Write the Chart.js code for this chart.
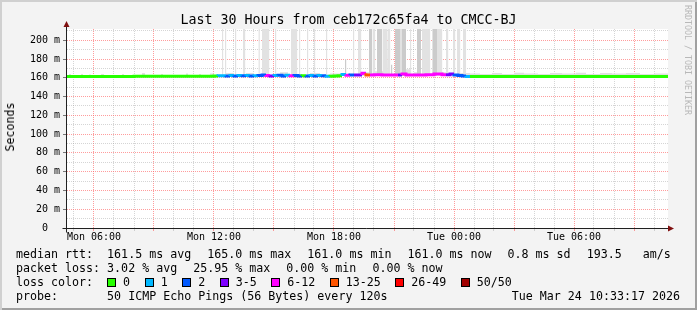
<!DOCTYPE html>
<html>
<head>
<meta charset="utf-8">
<script src="https://cdn.jsdelivr.net/npm/chart.js@4.4.1/dist/chart.umd.min.js"></script>
<style>
  html, body { margin: 0; padding: 0; background: #f3f3f3; }
  #frame {
    position: relative; width: 697px; height: 310px; background: #f3f3f3;
    box-shadow: inset 2px 2px 0 #d0d0d0, inset -2px -2px 0 #a0a0a0;
    font-family: "DejaVu Sans Mono", monospace; color: #000; overflow: hidden;
  }
  #chart { position: absolute; left: 0; top: 0; }
  .title { position: absolute; left: 0; top: 12px; width: 697px; text-align: center; font-size: 13.3px; line-height: 15px; }
  .ylabel { position: absolute; left: 10px; top: 127px; font-size: 11.65px; line-height: 14px; transform: translate(-50%, -50%) rotate(-90deg); white-space: pre; }
  .mark { position: absolute; left: 683px; top: 5px; writing-mode: vertical-rl; font-size: 8.3px; color: #b8b8b8; white-space: pre; }
  .row { position: absolute; left: 16px; height: 14px; width: 681px; font-size: 11.65px; line-height: 14px; white-space: pre; }
  .gap { margin-right: 16px; }
  .box { display: inline-block; width: 7px; height: 7px; border: 1px solid #000; vertical-align: -1px; margin-right: 7px; }
  .item { margin-right: 14.5px; }
  .date { position: absolute; right: 17px; top: 289px; font-size: 11.65px; line-height: 14px; white-space: pre; }
</style>
</head>
<body>
<div id="frame">
  <canvas id="chart" width="697" height="310"></canvas>
  <div class="title">Last 30 Hours from ceb172c65fa4 to CMCC-BJ</div>
  <div class="ylabel">Seconds</div>
  <div class="mark">RRDTOOL / TOBI OETIKER</div>
  <div class="row" id="row-rtt" style="top:247px"></div>
  <div class="row" id="row-loss" style="top:261px"></div>
  <div class="row" id="loss-row" style="top:275px">loss color:  </div>
  <div class="row" style="top:289px">probe:       50 ICMP Echo Pings (56 Bytes) every 120s</div>
  <div class="date">Tue Mar 24 10:33:17 2026</div>
</div>
<script>
// hours since Mon 00:00
const xStart = 4.65;
const xEnd = 34.7;
const xTickHours = [6, 12, 18, 24, 30];
const xTickLabels = ['Mon 06:00', 'Mon 12:00', 'Mon 18:00', 'Tue 00:00', 'Tue 06:00'];
const yMax = 212;

const lossLabels = ['0', '1', '2', '3-5', '6-12', '13-25', '26-49', '50/50'];
const lossColors = ['#26ff00', '#00b8ff', '#0059ff', '#7e00ff', '#ff00ff', '#ff5500', '#ff0000', '#a10000'];

const rttLegend = ['median rtt:  161.5 ms avg', '165.0 ms max', '161.0 ms min', '161.0 ms now', '0.8 ms sd', '193.5   am/s'];
const lossLegend = ['packet loss: 3.02 % avg', '25.95 % max', '0.00 % min', '0.00 % now'];

// median rtt (ms) and loss class per step
const medianTimes = [4.65, 8.0, 12.0, 12.2, 12.4, 12.6, 12.8, 13.0, 13.2, 13.4, 13.6, 13.8, 14.0, 14.2, 14.4, 14.6, 14.8,
  15.0, 15.2, 15.4, 15.6, 15.8, 16.0, 16.2, 16.4, 16.6, 16.8, 17.0, 17.2, 17.4, 17.6, 17.8, 18.0, 18.2, 18.4, 18.6, 18.8,
  19.0, 19.2, 19.4, 19.6, 19.8, 20.0, 20.4, 20.8, 21.2, 21.4, 21.6, 21.8, 22.2, 22.6, 23.0, 23.4, 23.6, 23.8, 24.0, 24.2,
  24.4, 24.6, 24.8, 28.0, 31.0, 34.7];
const medianValues = [161.5, 161.5, 161.6, 162.0, 162.3, 162.3, 162.0, 162.4, 162.0, 162.5, 162.2, 162.4, 162.0, 162.3,
  162.5, 163.0, 162.5, 162.0, 162.4, 162.6, 162.0, 162.6, 162.3, 162.5, 161.8, 162.3, 162.0, 162.4, 162.0, 162.5, 162.1,
  161.6, 161.7, 161.8, 162.2, 163.5, 162.6, 163.0, 163.0, 163.0, 164.8, 163.0, 163.0, 163.2, 162.9, 163.0, 163.0, 164.0,
  163.0, 163.1, 163.0, 163.2, 164.0, 163.2, 163.2, 164.0, 163.0, 162.5, 162.0, 161.5, 161.5, 161.4, 161.5];
const medianLoss = [0, 0, 0, 1, 1, 2, 1, 2, 1, 2, 1, 2, 1, 2, 2, 4, 3, 1, 2, 2, 1, 4, 2, 2, 0, 2, 1, 2, 1, 2, 1, 0, 0, 0,
  1, 4, 2, 3, 3, 4, 5, 4, 4, 4, 4, 3, 4, 4, 4, 4, 4, 4, 4, 3, 3, 2, 2, 2, 1, 0, 0, 0, 0];

// smoke: [from hour, to hour, top ms]
const lightSmoke = [[12.40, 12.46, 215], [12.55, 12.61, 215], [13.05, 13.11, 215], [13.45, 13.56, 215], [14.23, 14.29, 215],
  [14.40, 14.76, 215], [15.05, 15.11, 215], [15.85, 16.16, 215], [16.25, 16.31, 215], [16.65, 16.71, 215], [17.00, 17.06, 215],
  [17.60, 17.66, 215], [18.95, 19.01, 215], [19.20, 19.36, 215], [19.95, 20.06, 215], [20.45, 20.66, 215], [20.70, 20.81, 215],
  [21.30, 21.40, 215], [21.80, 21.86, 215], [22.40, 22.81, 215], [22.90, 22.96, 215], [23.15, 23.41, 215], [23.60, 23.71, 215],
  [23.95, 24.06, 215], [24.15, 24.31, 215], [24.45, 24.61, 215]];
const darkSmoke = [[18.55, 18.61, 180], [19.75, 19.91, 215], [20.15, 20.41, 215], [20.85, 20.91, 174], [21.05, 21.30, 215],
  [21.40, 21.60, 215], [22.15, 22.35, 215], [22.95, 23.15, 215]];
const lowSmoke = [[4.75, 4.85, 164], [5.35, 5.45, 164], [5.75, 5.85, 163.5], [6.35, 6.5, 164], [7.4, 7.5, 164], [8.4, 8.55, 165],
  [9.35, 9.45, 164], [10.6, 10.7, 164.5], [11.25, 11.35, 164], [11.8, 12.0, 164.5], [12.6, 13.0, 165], [13.6, 14.0, 165],
  [15.3, 15.7, 166], [16.8, 17.3, 165], [17.8, 18.4, 164.5], [19.35, 19.75, 166], [20.0, 20.5, 167], [21.55, 21.8, 169],
  [22.0, 22.2, 166], [23.4, 23.6, 166], [24.3, 24.8, 165], [24.8, 25.3, 164.5], [25.3, 25.9, 164], [25.9, 26.4, 165],
  [26.4, 27.0, 164], [27.0, 27.5, 165.5], [27.5, 28.2, 164.5], [28.2, 28.8, 164], [28.8, 29.4, 165], [29.4, 30.1, 164.5],
  [30.1, 30.6, 165.5], [30.6, 31.3, 164], [31.3, 31.9, 165], [31.9, 32.6, 164.5], [32.6, 33.3, 165], [33.3, 34.0, 164],
  [34.0, 34.7, 164.5]];

const smokeBase = 162;
const gridMinor = 'rgba(150,150,150,0.4)';
const gridMinor2 = gridMinor;
const gridMajor = 'rgba(255,90,90,0.6)';

// legend rows: items are spread with a fixed gap, like rrdtool does
function fillRow(id, items) {
  const row = document.getElementById(id);
  items.forEach(t => {
    const s = document.createElement('span');
    s.className = 'gap';
    s.textContent = t;
    row.appendChild(s);
  });
}
fillRow('row-rtt', rttLegend);
fillRow('row-loss', lossLegend);

const lossRow = document.getElementById('loss-row');
lossLabels.forEach((lab, i) => {
  const box = document.createElement('span');
  box.className = 'box';
  box.style.background = lossColors[i];
  const txt = document.createElement('span');
  txt.className = 'item';
  txt.textContent = lab;
  lossRow.appendChild(box);
  lossRow.appendChild(txt);
});

function spanPoints(spans) {
  const pts = [];
  spans.forEach(([a, b, top]) => {
    pts.push({x: a, y: smokeBase}, {x: a, y: top}, {x: b, y: top}, {x: b, y: smokeBase});
  });
  return pts;
}

const smokeSet = (spans, color, order) => ({
  data: spanPoints(spans),
  borderColor: 'rgba(0,0,0,0)',
  borderWidth: 0,
  backgroundColor: color,
  fill: {value: smokeBase},
  pointRadius: 0,
  tension: 0,
  order: order
});

const rrdFrame = {
  id: 'rrdFrame',
  beforeDraw(chart) {
    const {ctx, chartArea: a} = chart;
    ctx.save();
    ctx.fillStyle = '#ffffff';
    ctx.fillRect(a.left, a.top, a.right - a.left, a.bottom - a.top);
    ctx.restore();
  },
  afterDraw(chart) {
    const {ctx, chartArea: a} = chart;
    const bx = Math.round(a.left) - 0.5;
    const by = Math.round(a.bottom) + 0.5;
    ctx.save();
    ctx.strokeStyle = '#202020';
    ctx.lineWidth = 1;
    ctx.beginPath();
    ctx.moveTo(bx - 4, by); ctx.lineTo(a.right + 2, by);
    ctx.moveTo(bx, by + 4); ctx.lineTo(bx, a.top - 3);
    ctx.stroke();
    ctx.fillStyle = '#801010';
    ctx.beginPath();
    ctx.moveTo(bx - 3, a.top - 2); ctx.lineTo(bx + 3, a.top - 2); ctx.lineTo(bx, a.top - 8); ctx.closePath();
    ctx.fill();
    ctx.beginPath();
    ctx.moveTo(a.right, by - 3); ctx.lineTo(a.right, by + 3); ctx.lineTo(a.right + 6, by); ctx.closePath();
    ctx.fill();
    ctx.restore();
  }
};

const tickFont = {family: 'DejaVu Sans Mono', size: 10};

new Chart(document.getElementById('chart'), {
  type: 'line',
  data: {
    datasets: [
      {
        data: medianTimes.map((t, i) => ({x: t, y: medianValues[i]})),
        borderWidth: 3,
        borderColor: lossColors[0],
        segment: {borderColor: c => lossColors[medianLoss[c.p0DataIndex]]},
        stepped: 'after',
        pointRadius: 0,
        fill: false,
        order: 0
      },
      smokeSet(darkSmoke, '#cbcbcb', 1),
      smokeSet(lightSmoke, '#e2e2e2', 2),
      smokeSet(lowSmoke, '#e0e0e0', 3)
    ]
  },
  options: {
    responsive: false,
    devicePixelRatio: 1,
    animation: false,
    events: [],
    layout: {padding: {left: 0, right: 29, top: 29, bottom: 62}},
    plugins: {legend: {display: false}, tooltip: {enabled: false}, title: {display: false}},
    scales: {
      x: {
        type: 'linear',
        min: xStart,
        max: xEnd,
        afterFit: s => { s.height = 20; },
        afterBuildTicks: s => {
          const ticks = [];
          for (let h = Math.ceil(xStart); h <= Math.floor(xEnd); h++) ticks.push({value: h});
          s.ticks = ticks;
        },
        border: {display: false, dash: [1, 1]},
        grid: {
          color: c => (c.tick && c.tick.value % 3 === 0) ? gridMajor : gridMinor,
          tickColor: c => (c.tick && c.tick.value % 3 === 0) ? gridMajor : gridMinor2,
          tickLength: 3,
          lineWidth: 1
        },
        ticks: {
          autoSkip: false,
          maxRotation: 0,
          padding: 0,
          color: '#000',
          font: tickFont,
          callback: v => {
            const k = xTickHours.indexOf(v);
            return k >= 0 ? xTickLabels[k] : '';
          }
        }
      },
      y: {
        min: 0,
        max: yMax,
        afterFit: s => { s.width = 67; },
        afterBuildTicks: s => {
          const ticks = [];
          for (let v = 0; v <= 210; v += 10) ticks.push({value: v});
          s.ticks = ticks;
        },
        border: {display: false, dash: [1, 1]},
        grid: {
          color: c => (c.tick && c.tick.value % 20 === 0) ? gridMajor : gridMinor,
          tickColor: c => (c.tick && c.tick.value % 20 === 0) ? '#777' : 'rgba(0,0,0,0)',
          tickLength: 4,
          lineWidth: 1
        },
        ticks: {
          autoSkip: false,
          padding: 3,
          color: '#000',
          font: tickFont,
          callback: v => v % 20 !== 0 ? '' : (v === 0 ? '0  ' : v + ' m')
        }
      }
    }
  },
  plugins: [rrdFrame]
});
</script>
</body>
</html>
